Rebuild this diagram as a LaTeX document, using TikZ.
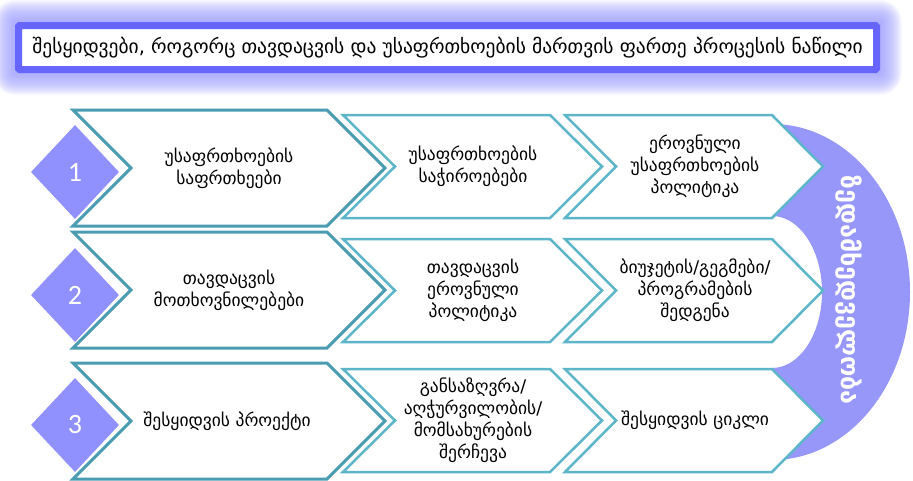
\documentclass[tikz,border=0pt]{standalone}
\usepackage{fontspec}
\setmainfont{DejaVu Sans}
\newfontfamily\digitfont{Carlito}
\usetikzlibrary{shapes}
\definecolor{headblue}{HTML}{6666FF}
\definecolor{glowblue}{HTML}{9999FF}
\definecolor{darkteal}{HTML}{4A9CB2}
\definecolor{lightteal}{HTML}{5CB5C9}
\definecolor{lavender}{HTML}{9090FF}
\definecolor{arcblue}{HTML}{9797FA}
\tikzstyle{bigchev}=[draw=darkteal,line width=3pt,fill=white]
\tikzstyle{smallchev}=[draw=lightteal,line width=2.5pt,fill=white]
\tikzstyle{chevtext}=[align=center,text=black,inner sep=0pt,font=\fontsize{17.5}{22}\selectfont]
\tikzstyle{number}=[diamond,fill=lavender,minimum width=88pt,minimum height=94pt,inner sep=0pt,text=white,font=\digitfont\fontsize{28}{28}\selectfont]
\tikzstyle{headbox}=[draw=headblue,fill=white,line width=7pt,rounded corners=1pt,minimum width=858pt,minimum height=44pt,inner sep=0pt]

\begin{document}
\begin{tikzpicture}[x=1pt,y=-1pt]
    \useasboundingbox (0,0) rectangle (913,480);
    % Glow and title bar
    \foreach \g in {1,...,22}
        \fill[glowblue,opacity=0.065,rounded corners=\g pt] (15-\g,22-\g) rectangle (880+\g,73+\g);
    \node[headbox] (title) at (447.5,47.5) {\fontsize{19.5}{19.5}\selectfont შესყიდვები, როგორც თავდაცვის და უსაფრთხოების მართვის ფართე პროცესის ნაწილი};
    % The half ring on the right
    \begin{scope}
        \clip (772,100) rectangle (913,480);
        \fill[arcblue,even odd rule] (772,292) ellipse [x radius=138pt,y radius=168pt]
            (772,292) ellipse [x radius=50pt,y radius=76pt];
    \end{scope}
    % Then we draw the chevrons
    \foreach \y in {168,290,421}
        \path[bigchev] (73,\y-58) -- (327,\y-58) -- (385,\y) -- (327,\y+58) -- (73,\y+58) -- (131,\y) -- cycle;
    \foreach \y in {166.5,290.5,420.5}
    {
        \path[smallchev] (343,\y-51.5) -- (550,\y-51.5) -- (602,\y) -- (550,\y+51.5) -- (343,\y+51.5) -- (395,\y) -- cycle;
        \path[smallchev] (565,\y-51.5) -- (772,\y-51.5) -- (823,\y) -- (772,\y+51.5) -- (565,\y+51.5) -- (616,\y) -- cycle;
    }
    % Numbered diamonds
    \foreach \y/\num in {172/1, 295/2, 425/3}
        \node[number] (n\num) at (75,\y) {\num};
    % Texts of the steps
    \node[chevtext] (a1) at (229,168) {უსაფრთხოების\\საფრთხეები};
    \node[chevtext] (b1) at (473,166.5) {უსაფრთხოების\\საჭიროებები};
    \node[chevtext] (c1) at (695,166.5) {ეროვნული\\უსაფრთხოების\\პოლიტიკა};
    \node[chevtext] (a2) at (229,290) {თავდაცვის\\მოთხოვნილებები};
    \node[chevtext] (b2) at (473,290.5) {თავდაცვის\\ეროვნული\\პოლიტიკა};
    \node[chevtext] (c2) at (695,290.5) {ბიუჯეტის/გეგმები/\\პროგრამების\\შედგენა};
    \node[chevtext] (a3) at (227,421) {შესყიდვის პროექტი};
    \node[chevtext] (b3) at (473,420.5) {განსაზღვრა/\\აღჭურვილობის/\\მომსახურების\\შერჩევა};
    \node[chevtext] (c3) at (695,420.5) {შესყიდვის ციკლი};
    % Label on the ring
    \node[rotate=-90,text=white,font=\bfseries\fontsize{25}{25}\selectfont] (ring) at (849,290) {ზედამხედველობა};
\end{tikzpicture}
\end{document}
